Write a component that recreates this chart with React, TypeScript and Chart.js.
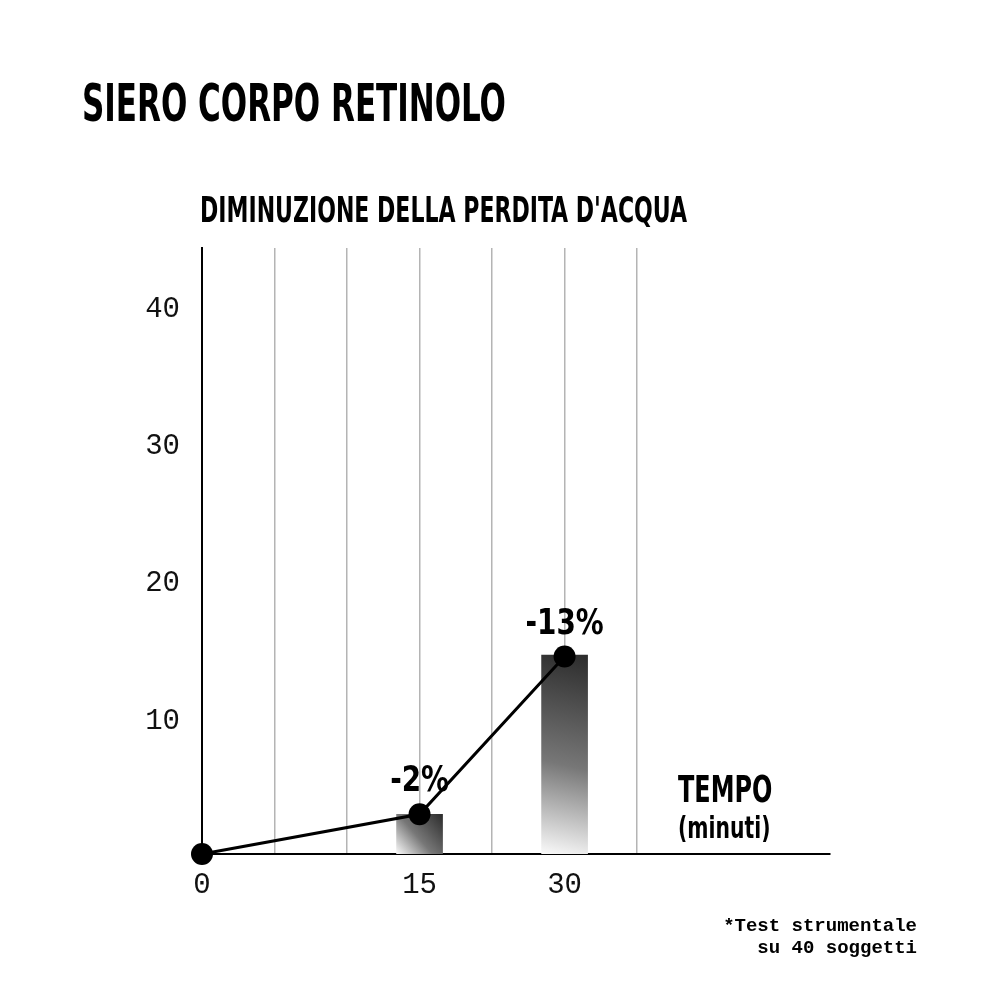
import React, { useRef, useEffect } from 'react';
import { Chart, registerables } from 'chart.js';

Chart.register(...registerables);

// posizioni sull'asse x (griglia regolare) e relative etichette
const xPositions = [0, 3, 5];
const xLabels = ['0', '15', '30'];
// valori della perdita d'acqua (scala asse y)
const lineValues = [0, 2.9, 14.4];
const barPositions = [3, 5];
const barValues = [2.9, 14.5];
const pointLabels = ['', '-2%', '-13%'];
const yTicks = [10, 20, 30, 40];

const TITLE = 'SIERO CORPO RETINOLO';
const SUBTITLE = "DIMINUZIONE DELLA PERDITA D'ACQUA";
const AXIS_TITLE = 'TEMPO';
const AXIS_UNIT = '(minuti)';
const NOTE = ['*Test strumentale', 'su 40 soggetti'];

const CONDENSED = "'DejaVu Sans Condensed', 'Liberation Sans Narrow', sans-serif";
const MONO = "'Liberation Mono', 'DejaVu Sans Mono', monospace";

const pointLabelPlugin = {
  id: 'pointLabels',
  afterDatasetsDraw(chart: any) {
    const meta = chart.getDatasetMeta(1);
    const ctx = chart.ctx;
    ctx.save();
    ctx.fillStyle = '#000';
    ctx.font = `bold 36px ${CONDENSED}`;
    ctx.textAlign = 'center';
    ctx.textBaseline = 'alphabetic';
    meta.data.forEach((pt: any, i: number) => {
      const txt = pointLabels[i];
      if (!txt) return;
      ctx.save();
      ctx.translate(pt.x, pt.y - 23);
      ctx.scale(0.86, 1);
      ctx.fillText(txt, 0, 0);
      ctx.restore();
    });
    ctx.restore();
  },
};

const squeeze = (sx: number): React.CSSProperties => ({
  position: 'absolute',
  color: '#000',
  whiteSpace: 'nowrap',
  transform: `scaleX(${sx})`,
  transformOrigin: 'left top',
});

const RetinoloChart: React.FC = () => {
  const canvasRef = useRef<HTMLCanvasElement | null>(null);

  useEffect(() => {
    if (!canvasRef.current) return;
    const ctx = canvasRef.current.getContext('2d');
    if (!ctx) return;

    const barGradient = (c: any) => {
      const chart = c.chart;
      if (!chart.chartArea || c.dataIndex === undefined) return '#444';
      const xs = chart.scales.x;
      const ys = chart.scales.y;
      const cx = xs.getPixelForValue(barPositions[c.dataIndex]);
      const top = ys.getPixelForValue(barValues[c.dataIndex]);
      const bottom = ys.getPixelForValue(0);
      const g = chart.ctx.createLinearGradient(cx + 23, top, cx - 23, bottom);
      g.addColorStop(0, '#2c2c2c');
      g.addColorStop(0.55, '#777777');
      g.addColorStop(1, '#fafafa');
      return g;
    };

    const chart = new Chart(ctx, {
      type: 'bar',
      data: {
        datasets: [
          {
            type: 'bar',
            data: barPositions.map((x, i) => ({ x, y: barValues[i] })),
            backgroundColor: barGradient,
            barThickness: 46,
            order: 1,
          },
          {
            type: 'line',
            data: xPositions.map((x, i) => ({ x, y: lineValues[i] })),
            borderColor: '#000',
            borderWidth: 3,
            pointRadius: 11,
            pointBackgroundColor: '#000',
            pointBorderWidth: 0,
            clip: false,
            order: 0,
          } as any,
        ],
      },
      options: {
        responsive: false,
        animation: false,
        layout: { padding: { top: 248, right: 170, left: 0, bottom: 0 } },
        plugins: {
          legend: { display: false },
          tooltip: { enabled: false },
        },
        scales: {
          x: {
            type: 'linear',
            min: 0,
            max: 8.66,
            offset: false,
            afterFit: (s: any) => {
              s.height = 146;
            },
            afterBuildTicks: (s: any) => {
              s.ticks = [0, 1, 2, 3, 4, 5, 6].map((v) => ({ value: v }));
            },
            ticks: {
              autoSkip: false,
              maxRotation: 0,
              padding: 14,
              color: '#111',
              font: { family: MONO, size: 29 },
              callback: (v: any) => {
                const i = xPositions.indexOf(Number(v));
                return i >= 0 ? xLabels[i] : '';
              },
            },
            grid: {
              offset: false,
              drawTicks: false,
              lineWidth: 1.5,
              color: (c: any) => (c.tick && c.tick.value >= 1 ? '#b4b4b4' : 'transparent'),
            },
            border: { color: '#000', width: 2 },
          },
          y: {
            min: 0,
            max: 44.2,
            afterFit: (s: any) => {
              s.width = 202;
            },
            afterBuildTicks: (s: any) => {
              s.ticks = yTicks.map((v) => ({ value: v }));
            },
            ticks: {
              padding: 22,
              labelOffset: 4,
              color: '#111',
              font: { family: MONO, size: 29 },
            },
            grid: { display: false, drawTicks: false },
            border: { color: '#000', width: 2 },
          },
        },
      },
      plugins: [pointLabelPlugin],
    });
    return () => chart.destroy();
  }, []);

  return (
    <div style={{ position: 'relative', width: 1000, height: 1000, margin: -8, background: '#fff', overflow: 'hidden' }}>
      <canvas ref={canvasRef} width={1000} height={1000} style={{ position: 'absolute', left: 0, top: 0 }} />
      <div style={{ ...squeeze(0.663), left: 82, top: 73, font: `bold 52px ${CONDENSED}`, lineHeight: '60px' }}>
        {TITLE}
      </div>
      <div style={{ ...squeeze(0.70), left: 200, top: 190, font: `bold 35px ${CONDENSED}`, lineHeight: '40px' }}>
        {SUBTITLE}
      </div>
      <div style={{ ...squeeze(0.70), left: 678, top: 768, font: `bold 38px ${CONDENSED}`, lineHeight: '42px' }}>
        {AXIS_TITLE}
      </div>
      <div style={{ ...squeeze(0.754), left: 678, top: 810, font: `bold 30px ${CONDENSED}`, lineHeight: '36px' }}>
        {AXIS_UNIT}
      </div>
      <div style={{ position: 'absolute', right: 83, top: 915, font: `bold 19px ${MONO}`, lineHeight: '22px', color: '#000', textAlign: 'right', whiteSpace: 'pre' }}>
        {NOTE.join('\n')}
      </div>
    </div>
  );
};

export default function App() {
  return <RetinoloChart />;
}
